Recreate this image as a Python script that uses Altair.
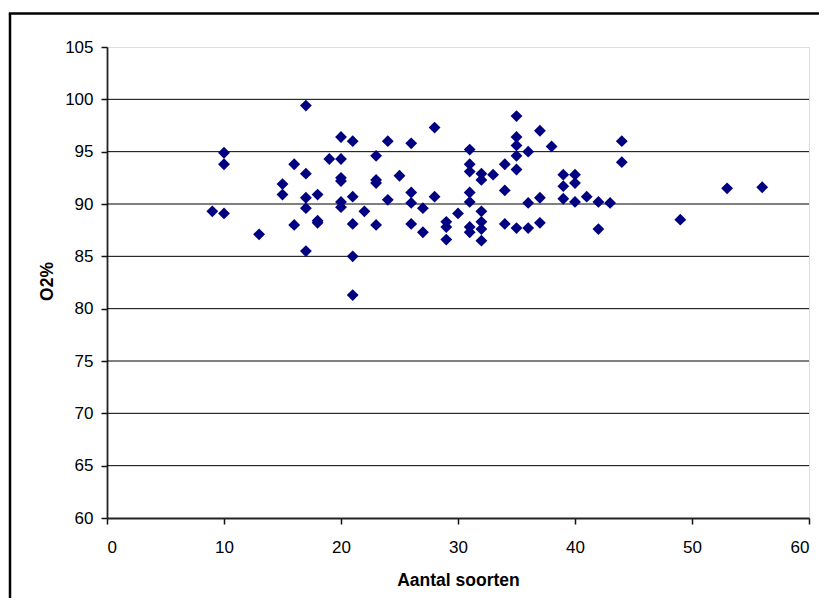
import altair as alt
import pandas as pd

# Data (Aantal soorten vs O2%)
species = [
    9,
    10, 10, 10,
    13,
    15, 15,
    16, 16,
    17, 17, 17, 17, 17,
    18, 18, 18,
    19,
    20, 20, 20, 20, 20, 20,
    21, 21, 21, 21, 21,
    22,
    23, 23, 23, 23,
    24, 24,
    25,
    26, 26, 26, 26,
    27, 27,
    28, 28,
    29, 29, 29,
    30,
    31, 31, 31, 31, 31, 31, 31,
    32, 32, 32, 32, 32, 32,
    33,
    34, 34, 34,
    35, 35, 35, 35, 35, 35,
    36, 36, 36,
    37, 37, 37,
    38,
    39, 39, 39,
    40, 40, 40,
    41,
    42, 42,
    43,
    44, 44,
    49,
    53,
    56,
]
o2 = [
    89.3,
    94.9, 93.8, 89.1,
    87.1,
    91.9, 90.9,
    93.8, 88.0,
    99.4, 92.9, 90.6, 89.6, 85.5,
    90.9, 88.4, 88.2,
    94.3,
    96.4, 94.3, 92.5, 92.2, 90.2, 89.7,
    96.0, 90.7, 88.1, 85.0, 81.3,
    89.3,
    94.6, 92.3, 92.0, 88.0,
    96.0, 90.4,
    92.7,
    95.8, 91.1, 90.1, 88.1,
    89.6, 87.3,
    97.3, 90.7,
    88.3, 87.8, 86.6,
    89.1,
    95.2, 93.8, 93.1, 91.1, 90.2, 87.8, 87.3,
    92.9, 92.3, 89.3, 88.3, 87.6, 86.5,
    92.8,
    93.8, 91.3, 88.1,
    98.4, 96.4, 95.6, 94.6, 93.3, 87.7,
    95.0, 90.1, 87.7,
    97.0, 90.6, 88.2,
    95.5,
    92.8, 91.7, 90.5,
    92.8, 92.0, 90.2,
    90.7,
    90.2, 87.6,
    90.1,
    96.0, 94.0,
    88.5,
    91.5,
    91.6,
]
x_ticks = [0, 10, 20, 30, 40, 50, 60]
y_ticks = [60, 65, 70, 75, 80, 85, 90, 95, 100, 105]
grid_values = [65, 70, 75, 80, 85, 90, 95, 100]

df = pd.DataFrame({"Aantal soorten": species, "O2%": o2})
grid_df = pd.DataFrame({"O2%": grid_values})
one = pd.DataFrame({"a": [0]})

FONT = "Liberation Sans"
W, H = 702, 471
PL, PT = 99, 39
TOTAL_W, TOTAL_H = 811, 590

xscale = alt.Scale(domain=[0, 60], nice=False, zero=False)
yscale = alt.Scale(domain=[60, 105], nice=False, zero=False)

yaxis = alt.Axis(
    title="O2%",
    values=y_ticks,
    grid=False,
    tickSize=6,
    tickColor="#111",
    tickWidth=1.5,
    domainColor="#222",
    domainWidth=1.8,
    labelFont=FONT,
    labelFontSize=17,
    labelColor="black",
    labelPadding=8,
    titleFont=FONT,
    titleFontSize=17.5,
    titleFontWeight="bold",
    titleColor="black",
    titleAngle=270,
    titleAlign="center",
    titleBaseline="alphabetic",
    titleX=-55,
    titleY=234,
)

xaxis = alt.Axis(
    title="Aantal soorten",
    values=x_ticks,
    grid=False,
    tickSize=6,
    tickColor="#111",
    tickWidth=1.5,
    domainColor="#222",
    domainWidth=2,
    labelFont=FONT,
    labelFontSize=17,
    labelColor="black",
    labelBaseline="alphabetic",
    labelPadding=28,
    titleFont=FONT,
    titleFontSize=17.5,
    titleFontWeight="bold",
    titleColor="black",
    titleBaseline="alphabetic",
    titleY=67,
)

grid = alt.Chart(grid_df).mark_rule(color="black", strokeWidth=1).encode(
    y=alt.Y("O2%:Q", scale=yscale, axis=yaxis)
)

points = alt.Chart(df).mark_point(
    shape="diamond", filled=True, color="#000080", size=140, opacity=1
).encode(
    x=alt.X("Aantal soorten:Q", scale=xscale, axis=xaxis),
    y=alt.Y("O2%:Q", scale=yscale, axis=yaxis),
)

border_left = alt.Chart(one).mark_rule(color="black", strokeWidth=2.5).encode(
    x=alt.value(-97), y=alt.value(-33.5), y2=alt.value(TOTAL_H - PT)
)
border_top = alt.Chart(one).mark_rule(color="black", strokeWidth=2.5).encode(
    y=alt.value(-33.5), x=alt.value(-98.2), x2=alt.value(TOTAL_W - PL)
)

chart = (
    alt.layer(grid, points, border_left, border_top)
    .properties(
        width=W,
        height=H,
        autosize=alt.AutoSizeParams(type="none"),
        padding={"left": PL, "top": PT, "right": TOTAL_W - PL - W, "bottom": TOTAL_H - PT - H},
    )
    .configure_view(stroke="#888888", strokeWidth=2)
    .configure(background="white")
)

chart.save("out.html", embed_options={"renderer": "svg", "actions": False})
